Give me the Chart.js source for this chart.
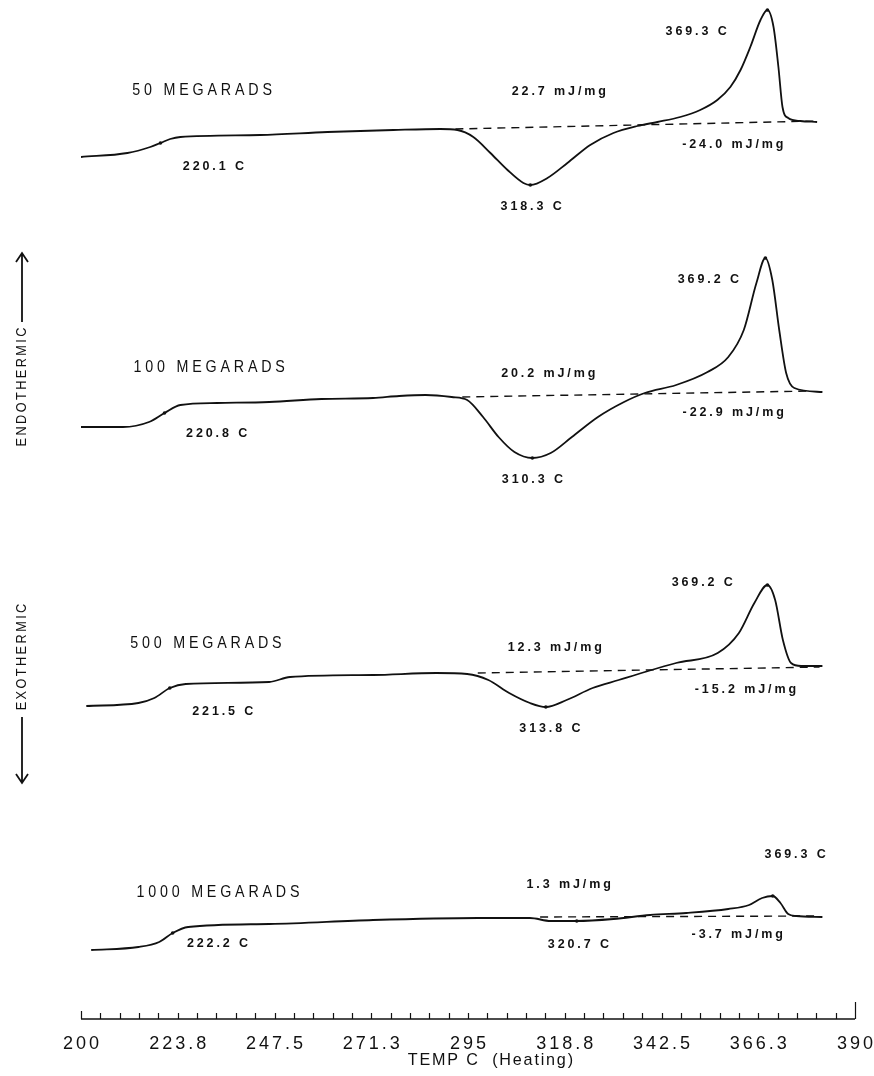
<!DOCTYPE html>
<html>
<head>
<meta charset="utf-8">
<title>DSC thermograms</title>
<script src="https://cdn.jsdelivr.net/npm/chart.js@4.4.1/dist/chart.umd.min.js"></script>
<style>
  html, body { margin: 0; padding: 0; background: #fff; }
  canvas { display: block; }
</style>
</head>
<body>
<canvas id="dsc" width="874" height="1076"></canvas>
<script>
// temperature (C) and heat flow (arb. units, endo up)
var t50 = [200, 211.4, 217.0, 219.5, 221.9, 224.4, 244.0, 260.5, 276.7, 288.2, 292.4, 296.3, 300.5, 304.7, 308.6, 310.3, 314.5, 319.4, 325.0, 330.7, 336.6, 341.5, 347.1, 352.0, 356.2, 359.4, 361.9, 364.3, 366.8, 368.5, 370.0, 371.2, 372.2, 373.6, 376.6, 380.7];
var hf50 = [0, 0.4, 1.0, 1.4, 1.8, 2.0, 2.2, 2.5, 2.7, 2.8, 2.7, 2.0, 0.4, -1.3, -2.6, -2.8, -2.1, -0.6, 1.2, 2.4, 3.1, 3.5, 4.0, 4.7, 5.7, 7.0, 8.7, 11.0, 13.7, 14.7, 13.0, 9.0, 5.0, 3.9, 3.6, 3.5];

var t100 = [200, 210.3, 216.7, 220.5, 224.4, 233.4, 246.2, 259.0, 271.7, 278.1, 284.6, 291.0, 294.8, 298.7, 302.5, 306.4, 310.8, 315.3, 320.5, 326.9, 333.3, 338.4, 346.1, 353.8, 358.9, 362.7, 365.8, 368.0, 369.7, 371.4, 373.1, 375.1, 382.0];
var hf100 = [0, 0.0, 0.5, 1.4, 2.2, 2.4, 2.5, 2.8, 2.9, 3.1, 3.2, 3.0, 2.7, 1.0, -1.0, -2.5, -3.1, -2.6, -1.0, 1.0, 2.5, 3.4, 4.2, 5.5, 7.0, 9.7, 14.4, 16.9, 14.7, 9.7, 5.4, 3.9, 3.5];

var t500 = [201.3, 214.1, 218.0, 221.8, 225.7, 246.2, 251.3, 271.7, 287.2, 294.8, 300.0, 305.1, 310.2, 314.1, 319.2, 325.6, 332.0, 338.4, 346.1, 356.3, 361.5, 365.3, 368.5, 370.4, 372.3, 374.3, 376.8, 382.0];
var hf500 = [0, 0.3, 0.8, 1.8, 2.2, 2.4, 2.9, 3.1, 3.3, 3.2, 2.6, 1.3, 0.3, -0.1, 0.6, 1.8, 2.6, 3.4, 4.3, 5.3, 7.3, 10.3, 12.1, 10.6, 6.6, 4.3, 4.0, 4.0];

var t1000 = [202.5, 214.1, 219.2, 222.5, 226.3, 246.2, 271.7, 297.4, 310.2, 315.3, 321.7, 330.7, 339.7, 348.6, 358.9, 364.0, 367.2, 369.8, 371.7, 373.6, 375.6, 382.0];
var hf1000 = [0, 0.3, 0.8, 1.7, 2.3, 2.6, 3.0, 3.2, 3.2, 2.9, 2.9, 3.1, 3.5, 3.7, 4.1, 4.5, 5.2, 5.4, 4.7, 3.6, 3.4, 3.3];

// which readings the instrument flagged (transition, exo minimum, melt peak)
var marked50 = [3, 15, 29];
var marked100 = [3, 16, 27];
var marked500 = [3, 13, 22];
var marked1000 = [3, 10, 17];

// stacking offset of each trace and its integration baseline (start / end)
var doses = ['50 MEGARADS', '100 MEGARADS', '500 MEGARADS', '1000 MEGARADS'];
var stackOffset = [86.2, 59.2, 31.3, 6.9];
var baseT = [[291.9, 380.7], [293.6, 379.3], [297.4, 381.3], [312.7, 380.7]];
var baseHF = [[2.8, 3.6], [3.0, 3.6], [3.3, 3.9], [3.3, 3.4]];

var tickValues = [200, 223.75, 247.5, 271.25, 295, 318.75, 342.5, 366.25, 390];
var tickLabels = ['200', '223.8', '247.5', '271.3', '295', '318.8', '342.5', '366.3', '390'];
var minorStep = 4.75;

var traces = [[t50, hf50, marked50], [t100, hf100, marked100], [t500, hf500, marked500], [t1000, hf1000, marked1000]];

function toPoints(ts, hs, off) {
    return ts.map(function (t, i) { return { x: t, y: hs[i] + off }; });
}

var datasets = [];
traces.forEach(function (tr, k) {
    datasets.push({
        label: doses[k],
        data: toPoints(tr[0], tr[1], stackOffset[k]),
        borderColor: '#111',
        backgroundColor: '#111',
        borderWidth: 1.8,
        pointRadius: function (c) { return tr[2].indexOf(c.dataIndex) >= 0 ? 1.8 : 0; },
        pointBorderWidth: 0,
        cubicInterpolationMode: 'monotone',
        fill: false
    });
    datasets.push({
        label: doses[k] + ' baseline',
        data: toPoints(baseT[k], baseHF[k], stackOffset[k]),
        borderColor: '#111',
        borderWidth: 1.4,
        borderDash: [8, 6],
        pointRadius: 0,
        fill: false
    });
});

// writes text letter by letter, so the wide plotter spacing can be copied
function spacedText(ctx, str, x, y, gap, align, squeeze) {
    squeeze = squeeze || 1;
    var widths = [], total = 0;
    for (var i = 0; i < str.length; i++) {
        var w = ctx.measureText(str[i]).width * squeeze;
        widths.push(w);
        total += w;
    }
    total += gap * (str.length - 1);
    var sx = x;
    if (align === 'center') sx = x - total / 2;
    if (align === 'right') sx = x - total;
    ctx.textAlign = 'left';
    for (var j = 0; j < str.length; j++) {
        ctx.save();
        ctx.translate(sx, y);
        ctx.scale(squeeze, 1);
        ctx.fillText(str[j], 0, 0);
        ctx.restore();
        sx += widths[j] + gap;
    }
}

var notes = [
    // [text, temperature, heat flow (absolute), alignment, kind]
    ['50 MEGARADS', 212.6, 92.9, 'left', 'big'],
    ['220.1 C', 232.5, 85.2, 'center', 'small'],
    ['318.3 C', 310.5, 81.2, 'center', 'small'],
    ['22.7 mJ/mg', 317.3, 92.7, 'center', 'small'],
    ['369.3 C', 351.0, 98.7, 'center', 'small'],
    ['-24.0 mJ/mg', 360.0, 87.4, 'center', 'small'],

    ['100 MEGARADS', 212.9, 65.2, 'left', 'big'],
    ['220.8 C', 233.3, 58.5, 'center', 'small'],
    ['310.3 C', 310.8, 53.9, 'center', 'small'],
    ['20.2 mJ/mg', 314.7, 64.5, 'center', 'small'],
    ['369.2 C', 354.0, 73.9, 'center', 'small'],
    ['-22.9 mJ/mg', 360.1, 60.6, 'center', 'small'],

    ['500 MEGARADS', 212.1, 37.6, 'left', 'big'],
    ['221.5 C', 234.8, 30.7, 'center', 'small'],
    ['313.8 C', 315.1, 29.0, 'center', 'small'],
    ['12.3 mJ/mg', 316.3, 37.1, 'center', 'small'],
    ['369.2 C', 352.5, 43.6, 'center', 'small'],
    ['-15.2 mJ/mg', 363.1, 32.9, 'center', 'small'],

    ['1000 MEGARADS', 213.6, 12.7, 'left', 'big'],
    ['222.2 C', 233.5, 7.5, 'center', 'small'],
    ['320.7 C', 322.1, 7.4, 'center', 'small'],
    ['1.3 mJ/mg', 319.7, 13.4, 'center', 'small'],
    ['369.3 C', 375.3, 16.4, 'center', 'small'],
    ['-3.7 mJ/mg', 361.1, 8.4, 'center', 'small']
];

var plotterPlugin = {
    id: 'plotter',
    afterDraw: function (chart) {
        var ctx = chart.ctx;
        var xs = chart.scales.x, ys = chart.scales.y;
        var area = chart.chartArea;
        ctx.save();
        ctx.fillStyle = '#111';
        ctx.strokeStyle = '#111';
        ctx.textBaseline = 'middle';

        notes.forEach(function (n) {
            var px = xs.getPixelForValue(n[1]);
            var py = ys.getPixelForValue(n[2]);
            if (n[4] === 'big') {
                ctx.font = '17px "Liberation Sans", Arial, sans-serif';
                spacedText(ctx, n[0], px, py, 3.8, n[3], 0.84);
            } else {
                ctx.font = 'bold 12.5px "Liberation Sans", Arial, sans-serif';
                spacedText(ctx, n[0], px, py, 2.9, n[3], 1);
            }
        });

        // temperature axis, ticks pointing up
        var axisY = area.bottom;
        ctx.lineWidth = 1.6;
        ctx.beginPath();
        ctx.moveTo(xs.getPixelForValue(200), axisY);
        ctx.lineTo(xs.getPixelForValue(390), axisY);
        ctx.stroke();
        ctx.lineWidth = 1.2;
        for (var v = 200; v <= 390.01; v += minorStep) {
            var tx = Math.round(xs.getPixelForValue(v)) + 0.5;
            var len = 6;
            if (Math.abs(v - 200) < 0.01) len = 8;
            if (Math.abs(v - 390) < 0.01) len = 17;
            ctx.beginPath();
            ctx.moveTo(tx, axisY);
            ctx.lineTo(tx, axisY - len);
            ctx.stroke();
        }
        ctx.font = '19px "Liberation Sans", Arial, sans-serif';
        tickValues.forEach(function (tv, i) {
            spacedText(ctx, tickLabels[i], xs.getPixelForValue(tv), axisY + 25, 3, 'center', 0.95);
        });
        ctx.font = '17px "Liberation Sans", Arial, sans-serif';
        spacedText(ctx, 'TEMP C  (Heating)', xs.getPixelForValue(300.5), axisY + 41, 1.8, 'center', 0.95);

        // endo / exo direction labels on the left
        ctx.font = '15px "Liberation Sans", Arial, sans-serif';
        ctx.lineWidth = 1.8;
        ctx.save();
        ctx.translate(22, 387);
        ctx.rotate(-Math.PI / 2);
        spacedText(ctx, 'ENDOTHERMIC', 0, 0, 2.4, 'center', 0.85);
        ctx.restore();
        ctx.save();
        ctx.translate(22, 657);
        ctx.rotate(-Math.PI / 2);
        spacedText(ctx, 'EXOTHERMIC', 0, 0, 2.4, 'center', 0.85);
        ctx.restore();

        ctx.beginPath();
        ctx.moveTo(22, 322); ctx.lineTo(22, 253);
        ctx.moveTo(16, 262); ctx.lineTo(22, 253); ctx.lineTo(28, 262);
        ctx.moveTo(22, 717); ctx.lineTo(22, 783);
        ctx.moveTo(16, 774); ctx.lineTo(22, 783); ctx.lineTo(28, 774);
        ctx.stroke();

        ctx.restore();
    }
};

var chart = new Chart(document.getElementById('dsc'), {
    type: 'line',
    data: { datasets: datasets },
    options: {
        responsive: false,
        animation: false,
        layout: { padding: { left: 81, right: 19, top: 0, bottom: 57 } },
        plugins: {
            legend: { display: false },
            tooltip: { enabled: false }
        },
        scales: {
            x: { type: 'linear', min: 200, max: 390, display: false },
            y: { type: 'linear', min: 0, max: 101.9, display: false }
        }
    },
    plugins: [plotterPlugin]
});
</script>
</body>
</html>
